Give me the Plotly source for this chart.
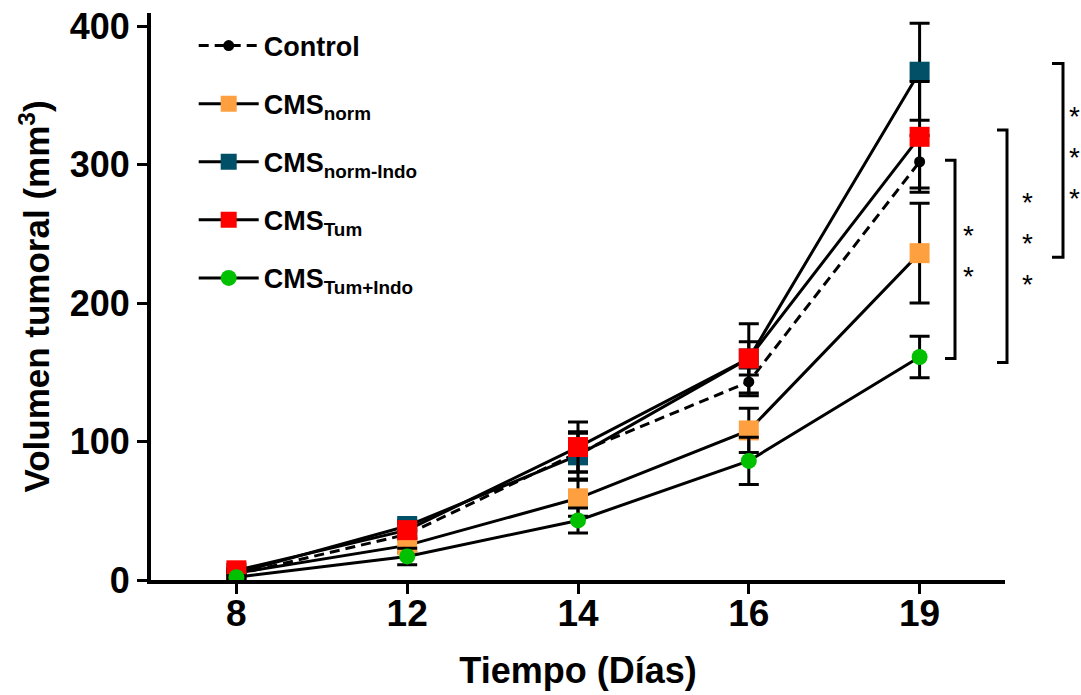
import plotly.graph_objects as go

# ---------------- data ----------------
days = ["8", "12", "14", "16", "19"]

control = [4, 33, 92, 143, 302]
control_err = [1, 4, 14, 10, 19]

cms_norm = [5, 25, 59, 108, 236]
cms_norm_err = [1, 5, 13, 16, 36]

cms_norm_indo = [5, 39, 90, 160, 367]
cms_norm_indo_err = [1, 4, 17, 12, 35]

cms_tum = [7, 36, 96, 160, 320]
cms_tum_err = [1, 5, 18, 25, 40]

cms_tum_indo = [2, 17, 43, 86, 161]
cms_tum_indo_err = [1, 6, 9, 17, 15]

y_ticks = [0, 100, 200, 300, 400]

# significance brackets at day 19: (top value, bottom value, number of stars)
bracket_top = [303, 325, 373]
bracket_bottom = [160, 157, 233]
bracket_stars = [2, 3, 3]

# ---------------- style ----------------
FONT = "Liberation Sans, Arial, sans-serif"
x_idx = list(range(len(days)))

series = [
    ("Control", control, control_err, "circle", 11, "#000000", "10px,6px"),
    ("CMS<sub>norm</sub>", cms_norm, cms_norm_err, "square", 20, "#FFA040", "solid"),
    ("CMS<sub>norm-Indo</sub>", cms_norm_indo, cms_norm_indo_err, "square", 20, "#024F68", "solid"),
    ("CMS<sub>Tum</sub>", cms_tum, cms_tum_err, "square", 20, "#FF0000", "solid"),
    ("CMS<sub>Tum+Indo</sub>", cms_tum_indo, cms_tum_indo_err, "circle", 16, "#00C000", "solid"),
]

fig = go.Figure()
for i, (name, vals, errs, sym, size, col, dash) in enumerate(series):
    fig.add_trace(go.Scatter(
        x=x_idx, y=vals, name=name, mode="lines+markers",
        legendgroup=f"g{i}",
        line=dict(color="black", width=3, dash=dash),
        marker=dict(symbol=sym, size=size, color=col, line=dict(width=0)),
        error_y=dict(type="data", array=errs, visible=True, color="black",
                     thickness=3, width=10),
    ))

# plot-area geometry (pixels) used for paper conversions of bracket x positions
L, R = 151, 1005
def px_to_paper(px):
    return (px - L) / (R - L)

bracket_x = [(945, 955), (997, 1007), (1052, 1063)]
star_x = [968, 1027, 1074]

shapes = []
annotations = []
for (top, bot, n), (x0, x1), sx in zip(zip(bracket_top, bracket_bottom, bracket_stars), bracket_x, star_x):
    p0, p1 = px_to_paper(x0), px_to_paper(x1)
    path = f"M {p0},{top} L {p1},{top} L {p1},{bot} L {p0},{bot}"
    shapes.append(dict(type="path", xref="paper", yref="y", path=path,
                       line=dict(color="black", width=3)))
    mid = (top + bot) / 2
    for k in range(n):
        off = (k - (n - 1) / 2) * 41
        annotations.append(dict(xref="paper", yref="y", x=px_to_paper(sx), y=mid,
                                yshift=-off + 3, text="*", showarrow=False,
                                font=dict(family=FONT, size=28, color="black"),
                                xanchor="center", yanchor="middle"))

fig.update_layout(
    width=1081, height=695,
    margin=dict(l=L, r=1081 - R, t=13, b=115, autoexpand=False),
    paper_bgcolor="white", plot_bgcolor="white",
    font=dict(family=FONT, color="black"),
    shapes=shapes, annotations=annotations,
    showlegend=True,
    legend=dict(x=0.05, y=0.985, xanchor="left", yanchor="top",
                font=dict(family=FONT, size=27, color="black", weight="bold"),
                bgcolor="rgba(0,0,0,0)", tracegroupgap=20, itemwidth=60,
                traceorder="grouped"),
    xaxis=dict(range=[-0.5, 4.5], tickmode="array", tickvals=x_idx, ticktext=days,
               showgrid=False, zeroline=False, showline=True, linecolor="black",
               linewidth=4, ticks="outside", ticklen=10, tickwidth=3, tickcolor="black",
               ticklabelstandoff=-12,
               tickfont=dict(family=FONT, size=37, color="black", weight="bold"),
               title=dict(text="Tiempo (Días)", standoff=25,
                          font=dict(family=FONT, size=36, color="black", weight="bold"))),
    yaxis=dict(range=[0, 409.4], tickmode="array", tickvals=y_ticks,
               showgrid=False, zeroline=False, showline=True, linecolor="black",
               linewidth=4, ticks="outside", ticklen=10, tickwidth=3, tickcolor="black",
               tickfont=dict(family=FONT, size=36, color="black", weight="bold"),
               title=dict(text="Volumen tumoral (mm<sup>3</sup>)", standoff=10,
                          font=dict(family=FONT, size=35, color="black", weight="bold"))),
)

fig.write_html("out.html")
